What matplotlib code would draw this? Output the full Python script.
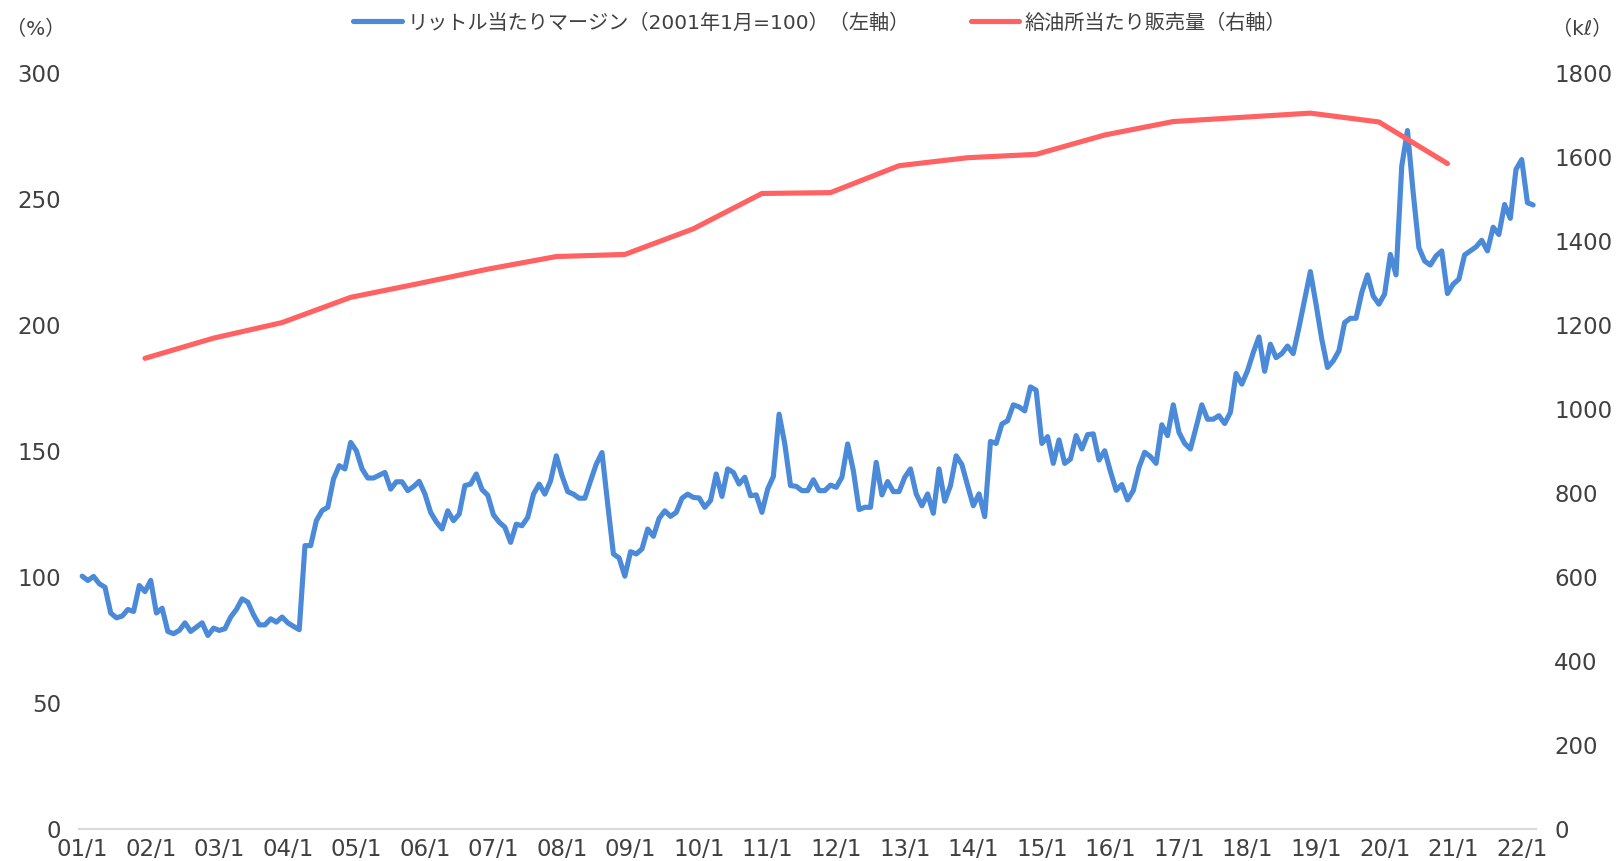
import numpy as np
import matplotlib
matplotlib.use("Agg")
import matplotlib.pyplot as plt

# monthly margin per litre, Jan 2001 = 100 (left axis)
margin = [
    100.0, 98.3, 99.9, 97.0, 95.6, 85.4, 83.5, 84.2, 86.8, 86.0, 96.3, 93.9,
    98.3, 85.4, 87.3, 78.1, 77.2, 78.5, 81.5, 78.1, 79.8, 81.5, 76.5, 79.4,
    78.5, 79.2, 83.8, 86.8, 91.0, 89.7, 84.7, 80.7, 80.7, 83.1, 81.8, 83.8,
    81.5, 80.1, 78.8, 112.1, 112.1, 122.0, 126.0, 127.3, 138.5, 143.8, 142.5, 153.0,
    149.7, 142.5, 138.9, 138.9, 140.0, 141.1, 134.5, 137.4, 137.4, 133.9, 135.5, 137.6,
    132.6, 125.3, 121.5, 118.7, 125.9, 122.0, 124.6, 135.9, 136.5, 140.5, 134.3, 132.1,
    124.3, 121.4, 119.4, 113.4, 120.6, 120.0, 123.3, 132.5, 136.5, 132.5, 137.8, 147.7,
    139.8, 133.5, 132.5, 130.9, 130.9, 137.8, 144.4, 149.0, 128.5, 108.8, 107.2, 100.0,
    109.7, 108.8, 110.8, 118.7, 115.8, 122.9, 125.9, 123.7, 125.3, 130.9, 132.5, 131.2,
    131.0, 127.3, 130.0, 140.5, 131.6, 142.5, 141.1, 136.5, 139.2, 131.9, 132.2, 125.3,
    134.5, 139.5, 164.2, 152.4, 135.9, 135.6, 133.9, 133.9, 138.2, 133.9, 133.9, 136.1,
    135.2, 139.2, 152.4, 141.8, 126.4, 127.3, 127.3, 145.1, 132.2, 137.5, 133.5, 133.5,
    139.2, 142.5, 132.6, 127.9, 132.6, 124.9, 142.5, 129.7, 135.9, 147.7, 144.2, 135.9,
    127.9, 132.6, 123.6, 153.4, 152.6, 160.3, 161.6, 167.9, 167.1, 165.5, 175.0, 173.7,
    152.6, 155.3, 144.7, 154.0, 144.7, 146.4, 155.7, 150.4, 156.1, 156.4, 146.0, 149.7,
    141.5, 134.0, 136.3, 130.2, 133.9, 143.1, 149.1, 147.4, 144.7, 160.0, 155.7, 167.9,
    157.0, 152.6, 150.4, 159.0, 167.9, 162.2, 162.2, 163.6, 160.5, 164.9, 180.3, 176.1,
    181.4, 188.6, 194.8, 181.2, 191.9, 186.6, 188.2, 191.2, 188.2, 198.5, 209.7, 220.7,
    207.7, 193.9, 182.7, 185.3, 189.3, 200.5, 202.2, 202.2, 212.4, 219.4, 211.0, 207.8,
    211.8, 227.5, 219.4, 262.5, 276.6, 252.0, 230.2, 224.9, 223.3, 226.9, 228.9, 212.0,
    215.7, 217.7, 227.3, 228.9, 230.5, 233.1, 228.9, 238.3, 235.4, 247.3, 241.8, 261.2,
    265.1, 248.0, 247.1,
]

# yearly sales volume per station (kl, right axis), plotted at December of each year
volume_years = list(range(2001, 2021))
volume = [1118, 1166, 1203, 1263, 1296, 1330, 1360, 1365, 1426, 1510,
          1512, 1576, 1595, 1603, 1649, 1681, 1691, 1701, 1680, 1581]

label_years = list(range(2001, 2023))
tick_labels = ["%02d/1" % (y % 100) for y in label_years]

margin_label = "リットル当たりマージン（2001年1月=100）（左軸）"
volume_label = "給油所当たり販売量（右軸）"

plt.rcParams['font.family'] = ['DejaVu Sans', 'Noto Sans CJK JP']
text_color = '#404040'
blue = '#4a8ad8'
red = '#ff6262'

W, H = 1620, 862
fig = plt.figure(figsize=(W / 100, H / 100), dpi=100)
ax = fig.add_axes([79.3 / W, (H - 829.5) / H, (1536 - 79.3) / W, 757 / H])
ax2 = ax.twinx()

months = np.arange(len(margin))
volume_months = [(y - 2001) * 12 + 11 for y in volume_years]

l1, = ax.plot(months, margin, color=blue, lw=3.7, solid_joinstyle='round',
              solid_capstyle='round', label=margin_label)
l2, = ax2.plot(volume_months, volume, color=red, lw=3.7, solid_joinstyle='round',
               solid_capstyle='round', label=volume_label)

ax.set_xlim(-0.5, len(margin) - 0.5)
ax.set_ylim(0, 300)
ax.set_yticks(np.arange(0, 301, 50))
ax2.set_ylim(0, 1800)
ax2.set_yticks(np.arange(0, 1801, 200))
ax.set_xticks([(y - 2001) * 12 for y in label_years])
ax.set_xticklabels(tick_labels)

for a in (ax, ax2):
    for s in a.spines.values():
        s.set_visible(False)
ax.spines['bottom'].set_visible(True)
ax.spines['bottom'].set_color('#d9d9d9')
ax.spines['bottom'].set_linewidth(1.5)

ax.tick_params(axis='x', length=0, pad=6, labelsize=16.5, labelcolor=text_color)
ax.tick_params(axis='y', length=0, pad=13, labelsize=16.5, labelcolor=text_color)
ax2.tick_params(axis='y', length=0, pad=13, labelsize=16.5, labelcolor=text_color)

fig.text(36 / W, 1 - 29 / H, "（%）", ha='center', va='center', fontsize=14.5, color=text_color)
fig.text(1582 / W, 1 - 29 / H, "（kℓ）", ha='center', va='center', fontsize=14.5, color=text_color)

leg = fig.legend(handles=[l1, l2], loc='center', bbox_to_anchor=(820 / W, 1 - 23 / H),
                 ncol=2, frameon=False, fontsize=14.5, handlelength=2.4,
                 handletextpad=0.3, columnspacing=3.0, borderpad=0)
for t in leg.get_texts():
    t.set_color(text_color)

fig.savefig("out.png", dpi=100)
